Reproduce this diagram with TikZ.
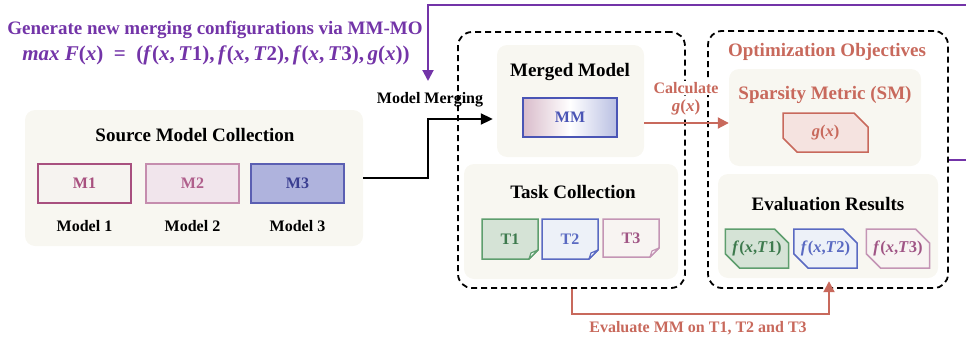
\documentclass[tikz,border=0pt]{standalone}
\usepackage{fontspec}
\setmainfont{Liberation Serif}
\usetikzlibrary{arrows.meta,shapes.misc,calc}
\definecolor{purp}{HTML}{7334A8}
\definecolor{salm}{HTML}{C8695C}
\definecolor{panelbg}{HTML}{F8F7F1}
\definecolor{mAb}{HTML}{A8507F}\definecolor{mAf}{HTML}{F6F3F0}\definecolor{mAt}{HTML}{A8507F}
\definecolor{mBb}{HTML}{C58DAE}\definecolor{mBf}{HTML}{F1E5EC}\definecolor{mBt}{HTML}{B05F8C}
\definecolor{mCb}{HTML}{5B5FB2}\definecolor{mCf}{HTML}{AFB3DD}\definecolor{mCt}{HTML}{3B3F92}
\definecolor{mmb}{HTML}{4A55B5}\definecolor{mmpink}{HTML}{D9BCCB}\definecolor{mmblue}{HTML}{B9BFE2}
\definecolor{tAb}{HTML}{5E9E6E}\definecolor{tAf}{HTML}{D5E3D6}\definecolor{tAt}{HTML}{3D7A4D}
\definecolor{tBb}{HTML}{5A6AC2}\definecolor{tBf}{HTML}{EDF1F8}\definecolor{tBt}{HTML}{5A6AC2}
\definecolor{tCb}{HTML}{C495B5}\definecolor{tCf}{HTML}{F8F4F2}\definecolor{tCt}{HTML}{A05585}
\definecolor{gf}{HTML}{F5E3E0}
\newcommand{\mi}[1]{\textit{#1}}
\newcommand{\fx}[1]{\mi{f}(\mi{x},\mi{T}#1)}
% name, cx, cy, hw, hh, border, fill, textcolor, text
\newcommand{\docnode}[9]{%
  \draw[line width=1.5pt, draw=#6, fill=#7] (#2-#4,#3-#5) -- (#2+#4,#3-#5) -- (#2+#4,#3+#5-9) -- (#2+#4-9,#3+#5) -- (#2-#4,#3+#5) -- cycle;
  \draw[line width=1.2pt, draw=#6, fill=white, line join=round] (#2+#4,#3+#5-9) -- (#2+#4-7,#3+#5-6) -- (#2+#4-9,#3+#5) -- cycle;
  \node[font=\bfseries\fontsize{16}{19}\selectfont, text=#8, inner sep=0, minimum width=2*#4, minimum height=2*#5] (#1) at (#2,#3) {#9};}
\begin{document}
\begin{tikzpicture}[x=1pt,y=-1pt,
  panel/.style={fill=panelbg, rounded corners=10pt, inner sep=0, draw=none},
  dashbox/.style={draw=black, dash pattern=on 6pt off 4pt, line width=1.8pt, rounded corners=14pt, inner sep=0},
  title/.style={font=\bfseries\fontsize{19}{22}\selectfont, inner sep=0},
  lab/.style={font=\bfseries\fontsize{16}{19}\selectfont, inner sep=0},
  mbox/.style={line width=1.5pt, inner sep=0, minimum width=93pt, minimum height=39pt, font=\bfseries\fontsize{16}{19}\selectfont},
  cbox/.style={chamfered rectangle, chamfered rectangle corners={north east,south west}, chamfered rectangle xsep=7pt, chamfered rectangle ysep=7pt, line width=1.5pt, inner sep=0, minimum height=39pt, font=\bfseries\fontsize{16.5}{20}\selectfont},
  conn/.style={line width=2pt},
]
\useasboundingbox (0,0) rectangle (966,343);

% top purple title
\node[title, text=purp] (gen) at (215,30) {Generate new merging configurations via MM-MO};
\node[title, font=\bfseries\fontsize{21}{24}\selectfont, text=purp] (eq) at (216,55) {\mi{max F}(\mi{x})\enspace=\enspace(\mi{f}(\mi{x},\,\mi{T}1),\,\mi{f}(\mi{x},\,\mi{T}2),\,\mi{f}(\mi{x},\,\mi{T}3),\,\mi{g}(\mi{x}))};

% source model collection
\node[panel, minimum width=338pt, minimum height=136pt] (src) at (194,178) {};
\node[title] (srct) at (195,135) {Source Model Collection};
\node[mbox, draw=mAb, fill=mAf, text=mAt] (m1) at (84.5,183.5) {M1};
\node[mbox, draw=mBb, fill=mBf, text=mBt] (m2) at (192.5,183.5) {M2};
\node[mbox, draw=mCb, fill=mCf, text=mCt] (m3) at (297.5,183.5) {M3};
\node[lab] (l1) at (84.5,226) {Model 1};
\node[lab] (l2) at (192.5,226) {Model 2};
\node[lab] (l3) at (297.5,226) {Model 3};

% dashed groups
\node[dashbox, minimum width=227pt, minimum height=256pt] (lbox) at (571.5,160) {};
\node[dashbox, minimum width=240pt, minimum height=257pt] (rbox) at (828,159.5) {};

% merged model
\node[panel, minimum width=147pt, minimum height=112pt] (mmp) at (570.5,101) {};
\node[title] (mmt) at (570,72) {Merged Model};
\node[mbox, minimum width=94pt, draw=mmb, text=mmb, left color=mmpink, right color=mmblue, middle color=white] (mm) at (570,117.5) {MM};

% task collection
\node[panel, minimum width=214pt, minimum height=115pt] (tp) at (571,221.5) {};
\node[title] (tpt) at (573,192) {Task Collection};
\docnode{t1}{510}{239}{28}{20}{tAb}{tAf}{tAt}{T1}
\docnode{t2}{570}{239}{28}{20}{tBb}{tBf}{tBt}{T2}
\docnode{t3}{631}{238}{28}{19}{tCb}{tCf}{tCt}{T3}

% optimization objectives
\node[title, text=salm] (oot) at (827,52) {Optimization Objectives};
\node[panel, minimum width=192pt, minimum height=97pt] (sp) at (825,117.5) {};
\node[title, text=salm] (spt) at (825,95) {Sparsity Metric (SM)};
\node[cbox, minimum width=85pt, draw=salm, fill=gf, text=salm] (g) at (825.5,132.5) {\mi{g}(\mi{x})};

\node[panel, minimum width=220pt, minimum height=104pt] (ev) at (828,226) {};
\node[title] (evt) at (828,204) {Evaluation Results};
\node[cbox, minimum width=62pt, draw=tAb, fill=tAf, text=tAt] (f1) at (757,248.5) {\fx{1}};
\node[cbox, minimum width=63pt, draw=tBb, fill=tBf, text=tBt] (f2) at (825.5,248.5) {\fx{2}};
\node[cbox, minimum width=62pt, draw=tCb, fill=tCf, text=tCt] (f3) at (898,248.5) {\fx{3}};

% connectors
\coordinate (pA) at (966,5);
\coordinate (pB) at (966,160);
\draw[conn, draw=purp, -{Triangle[length=11pt,width=11pt]}] (pA) -- (428,5) -- (428,81);
\draw[conn, draw=purp] ([xshift=0.5pt]rbox.east |- pB) -- (pB);

\node[lab] (mmlab) at (430,100) {Model Merging};
\draw[conn, -{Triangle[length=12pt,width=11pt]}] (src.east) -- (428,178) |- ([xshift=-4pt,yshift=-18pt]mmp.west);

\draw[conn, draw=salm, -{Triangle[length=11pt,width=11pt]}] ([yshift=-22pt]mmp.east) -- ([yshift=-5.5pt]sp.west);
\node[lab, text=salm, fill=white, inner sep=1pt] (calc) at (686,88) {Calculate};
\node[lab, font=\bfseries\fontsize{17}{19}\selectfont, text=salm, fill=white, inner sep=1pt] (calcg) at (686,107) {\mi{g}(\mi{x})};

\draw[conn, draw=salm, -{Triangle[length=11pt,width=11pt]}] (lbox.south) -- ++(0,25) -| ([xshift=1pt,yshift=-3pt]ev.south);
\node[lab, text=salm] (evlab) at (698,328) {Evaluate MM on T1, T2 and T3};
\end{tikzpicture}
\end{document}
